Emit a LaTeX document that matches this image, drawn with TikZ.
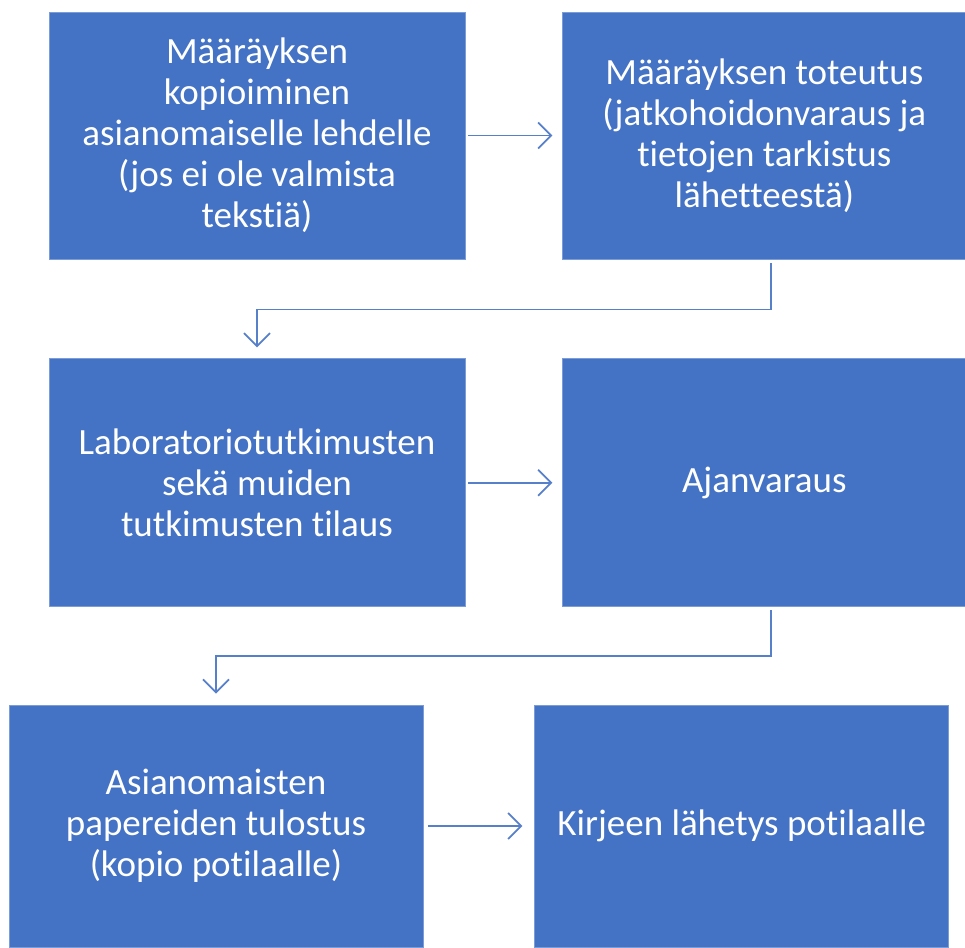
\documentclass[tikz,border=0pt]{standalone}
\usepackage{fontspec}
\setmainfont[Ligatures=NoCommon]{Carlito}
\usepackage{tikz}
\usetikzlibrary{positioning, arrows.meta}

\definecolor{officeblue}{HTML}{4472C4}

\begin{document}
\begin{tikzpicture}[
  x=1pt, y=-1pt,
  node distance=97pt,
  box/.style={rectangle, fill=officeblue, draw=officeblue!70!white, line width=0.8pt,
    text=white, align=center, inner sep=0pt,
    font=\fontsize{37}{41}\selectfont},
  arrow/.style={draw=officeblue!90!white, line width=1.8pt,
    -{Straight Barb[length=13pt, width=26pt, line width=1.8pt]}}
]

\useasboundingbox (0,0) rectangle (965,947);

\node[box, minimum width=416pt, minimum height=247pt] (kopiointi) at (257,135.5)
  {Määräyksen\\kopioiminen\\asianomaiselle lehdelle\\(jos ei ole valmista\\tekstiä)};
\node[box, minimum width=403pt, minimum height=247pt, right=97pt of kopiointi] (toteutus)
  {Määräyksen toteutus\\(jatkohoidonvaraus ja\\tietojen tarkistus\\lähetteestä)};
\node[box, minimum width=416pt, minimum height=248pt, below=99pt of kopiointi] (tilaus)
  {Laboratoriotutkimusten\\sekä muiden\\tutkimusten tilaus};
\node[box, minimum width=403pt, minimum height=248pt, right=97pt of tilaus] (ajanvaraus)
  {Ajanvaraus};
\node[box, minimum width=414pt, minimum height=242pt] (tulostus) at (216,826)
  {Asianomaisten\\papereiden tulostus\\(kopio potilaalle)};
\node[box, minimum width=414pt, minimum height=242pt, right=111pt of tulostus] (kirje)
  {Kirjeen lähetys potilaalle};

\draw[arrow, shorten <=3pt, shorten >=10pt] (kopiointi) -- (toteutus);
\draw[arrow, shorten <=4pt, shorten >=11pt] ([xshift=6.5pt]toteutus.south) -- ++(0,50) -| (tilaus.north);
\draw[arrow, shorten <=3pt, shorten >=10pt] (tilaus) -- (ajanvaraus);
\draw[arrow, shorten <=3pt, shorten >=11pt] ([xshift=6.5pt]ajanvaraus.south) -- ++(0,49) -| (tulostus.north);
\draw[arrow, shorten <=5pt, shorten >=12pt] (tulostus) -- (kirje);

\end{tikzpicture}
\end{document}
